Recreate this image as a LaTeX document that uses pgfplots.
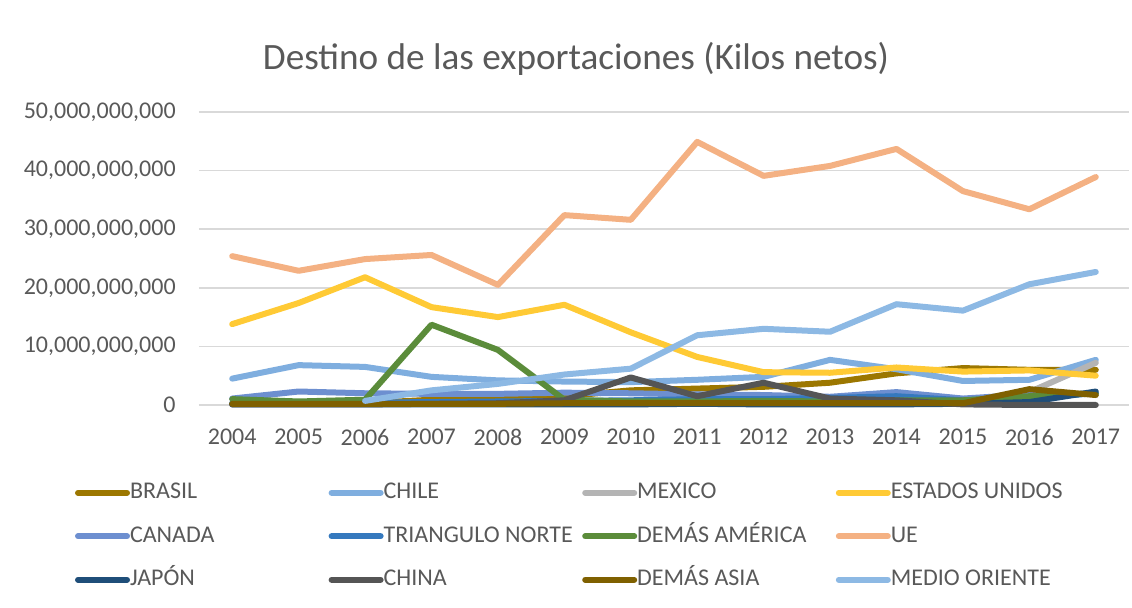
\documentclass[border=0pt]{standalone}
\usepackage{fontspec}
\setmainfont{Carlito}
\usepackage{pgfplots}
\pgfplotsset{compat=1.18}
\definecolor{cBR}{HTML}{9C7700}
\definecolor{cCL}{HTML}{7FAEDF}
\definecolor{cMX}{HTML}{B4B4B4}
\definecolor{cUS}{HTML}{FFCA35}
\definecolor{cCA}{HTML}{6D8FD0}
\definecolor{cTN}{HTML}{3579BE}
\definecolor{cDA}{HTML}{5B8C3A}
\definecolor{cUE}{HTML}{F4B183}
\definecolor{cJP}{HTML}{1F4E79}
\definecolor{cCN}{HTML}{555555}
\definecolor{cAS}{HTML}{7F6000}
\definecolor{cMO}{HTML}{8DB9E4}
\definecolor{gridc}{HTML}{D9D9D9}
\definecolor{tc}{HTML}{595959}
\begin{document}
\begin{tikzpicture}
\begin{axis}[
  at={(0pt,0pt)}, anchor=south west,
  scale only axis, width=465pt, height=146.5pt,
  xmin=2003.5, xmax=2017.5, ymin=0, ymax=50,
  xtick={2004,2005,2006,2007,2008,2009,2010,2011,2012,2013,2014,2015,2016,2017},
  xticklabels={2004,2005,2006,2007,2008,2009,2010,2011,2012,2013,2014,2015,2016,2017},
  ytick={0,10,20,30,40,50},
  yticklabels={0,{10,000,000,000},{20,000,000,000},{30,000,000,000},{40,000,000,000},{50,000,000,000}},
  axis line style={draw=none},
  major tick length=0pt,
  ymajorgrids,
  grid style={color=gridc, line width=0.75pt},
  tick label style={font=\fontsize{12}{14}\selectfont, text=tc},
  yticklabel style={anchor=east, inner sep=0pt, xshift=-11.5pt},
  xticklabel style={anchor=north, inner sep=0pt, yshift=-12pt},
  clip=false,
  legend columns=4,
  legend cell align=left,
  legend style={draw=none, fill=none, at={(-0.1333,-0.262)}, anchor=north west,
    font=\fontsize{12}{14}\selectfont, text=tc,
    /tikz/every even column/.append style={column sep=0pt},
    /tikz/every odd column/.append style={column sep=0pt},
    row sep=10.75pt, inner sep=0pt, outer sep=0pt,
    nodes={inner sep=0pt, text height=8.5pt, text depth=2.5pt}},
  legend image code/.code={\draw[#1, line width=3pt, line cap=round] (1.5pt,0pt) -- (26pt,0pt);},
  every axis plot/.append style={line width=3pt, line join=round, line cap=round, mark=none},
]
\addplot[cBR] coordinates {(2004,0.2)(2005,0.2)(2006,0.3)(2007,0.9)(2008,1.2)(2009,1.5)(2010,2.5)(2011,2.8)(2012,3.1)(2013,3.8)(2014,5.4)(2015,6.3)(2016,6.0)(2017,6.0)};
\addlegendentry{\makebox[99.3pt][l]{BRASIL}}
\addplot[cCL] coordinates {(2004,4.5)(2005,6.8)(2006,6.5)(2007,4.8)(2008,4.2)(2009,4.0)(2010,3.9)(2011,4.3)(2012,4.8)(2013,7.7)(2014,6.1)(2015,4.1)(2016,4.3)(2017,7.7)};
\addlegendentry{\makebox[99.3pt][l]{CHILE}}
\addplot[cMX] coordinates {(2004,0.3)(2005,0.3)(2006,0.3)(2007,0.4)(2008,0.4)(2009,0.4)(2010,0.4)(2011,0.5)(2012,0.5)(2013,0.5)(2014,0.5)(2015,0.5)(2016,2.2)(2017,7.2)};
\addlegendentry{\makebox[99.3pt][l]{MEXICO}}
\addplot[cUS] coordinates {(2004,13.8)(2005,17.4)(2006,21.8)(2007,16.7)(2008,15.0)(2009,17.1)(2010,12.4)(2011,8.2)(2012,5.6)(2013,5.5)(2014,6.4)(2015,5.7)(2016,5.9)(2017,5.0)};
\addlegendentry{\makebox[99.3pt][l]{ESTADOS UNIDOS}}
\addplot[cCA] coordinates {(2004,1.1)(2005,2.3)(2006,2.0)(2007,1.9)(2008,1.9)(2009,2.1)(2010,2.0)(2011,1.8)(2012,1.7)(2013,1.4)(2014,2.2)(2015,1.1)(2016,1.8)(2017,1.9)};
\addlegendentry{\makebox[99.3pt][l]{CANADA}}
\addplot[cTN] coordinates {(2004,0.3)(2005,0.3)(2006,0.4)(2007,0.5)(2008,0.6)(2009,0.7)(2010,0.8)(2011,1.0)(2012,1.0)(2013,1.2)(2014,1.5)(2015,0.8)(2016,1.2)(2017,2.0)};
\addlegendentry{\makebox[99.3pt][l]{TRIANGULO NORTE}}
\addplot[cDA] coordinates {(2004,1.0)(2005,0.6)(2006,0.9)(2007,13.7)(2008,9.4)(2009,0.9)(2010,0.6)(2011,0.6)(2012,0.7)(2013,0.6)(2014,0.8)(2015,0.8)(2016,1.5)(2017,2.0)};
\addlegendentry{\makebox[99.3pt][l]{DEMÁS AMÉRICA}}
\addplot[cUE] coordinates {(2004,25.4)(2005,22.9)(2006,24.9)(2007,25.6)(2008,20.5)(2009,32.4)(2010,31.6)(2011,44.9)(2012,39.1)(2013,40.8)(2014,43.7)(2015,36.5)(2016,33.4)(2017,38.9)};
\addlegendentry{\makebox[99.3pt][l]{UE}}
\addplot[cJP] coordinates {(2004,0.1)(2005,0.1)(2006,0.1)(2007,0.1)(2008,0.1)(2009,0.1)(2010,0.1)(2011,0.2)(2012,0.1)(2013,0.1)(2014,0.1)(2015,0.2)(2016,0.5)(2017,2.3)};
\addlegendentry{\makebox[99.3pt][l]{JAPÓN}}
\addplot[cCN] coordinates {(2004,0.1)(2005,0.1)(2006,0.1)(2007,0.2)(2008,0.3)(2009,0.8)(2010,4.7)(2011,1.5)(2012,3.8)(2013,1.1)(2014,0.8)(2015,0.1)(2016,0.0)(2017,0.0)};
\addlegendentry{\makebox[99.3pt][l]{CHINA}}
\addplot[cAS] coordinates {(2004,0.2)(2005,0.2)(2006,0.2)(2007,0.2)(2008,0.2)(2009,0.3)(2010,0.3)(2011,0.3)(2012,0.3)(2013,0.3)(2014,0.3)(2015,0.3)(2016,2.7)(2017,1.7)};
\addlegendentry{\makebox[99.3pt][l]{DEMÁS ASIA}}
\addplot[cMO] coordinates {(2006,0.7)(2007,2.5)(2008,3.6)(2009,5.2)(2010,6.2)(2011,11.9)(2012,13.0)(2013,12.5)(2014,17.2)(2015,16.1)(2016,20.6)(2017,22.7)};
\addlegendentry{\makebox[99.3pt][l]{MEDIO ORIENTE}}
\end{axis}
\node[anchor=base, font=\fontsize{18.6}{20}\selectfont, text=tc] at (188.5pt,167.5pt) {Destino de las exportaciones (Kilos netos)};
\pgfresetboundingbox
\path (-99.5pt,-101.5pt) rectangle (466.5pt,202.5pt);
\end{tikzpicture}
\end{document}
